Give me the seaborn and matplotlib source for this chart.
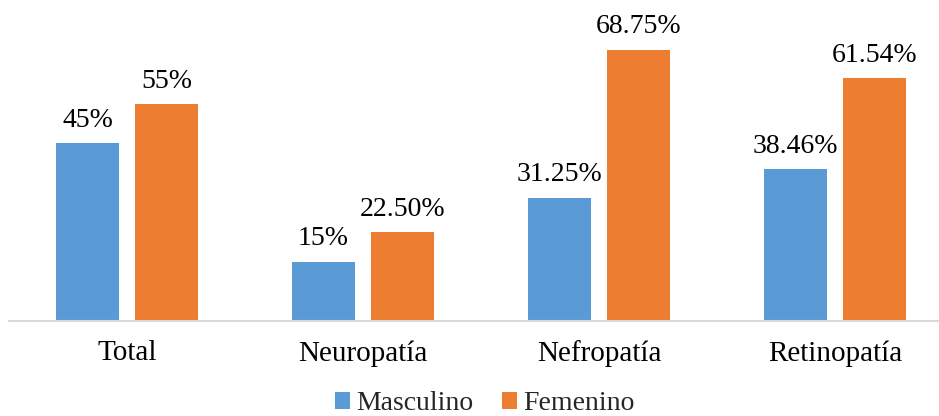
import matplotlib
matplotlib.use("Agg")
import matplotlib.pyplot as plt
import seaborn as sns
import pandas as pd
from matplotlib.patches import Patch

categories = ["Total", "Neuropatía", "Nefropatía", "Retinopatía"]
series_names = ["Masculino", "Femenino"]
masculino = [45, 15, 31.25, 38.46]
femenino = [55, 22.50, 68.75, 61.54]
masculino_labels = ["45%", "15%", "31.25%", "38.46%"]
femenino_labels = ["55%", "22.50%", "68.75%", "61.54%"]
colors = ["#5B9BD5", "#ED7D31"]

df = pd.DataFrame({
    "categoria": categories * 2,
    "sexo": [series_names[0]] * len(categories) + [series_names[1]] * len(categories),
    "valor": masculino + femenino,
})

sns.set_style("white")
plt.rcParams["font.family"] = ["Liberation Serif", "DejaVu Serif"]

W, H = 939, 416
fig = plt.figure(figsize=(W / 100, H / 100), dpi=100)
ax = fig.add_axes([9 / W, 95 / H, 930 / W, 321 / H])

sns.barplot(data=df, x="categoria", y="valor", hue="sexo", order=categories,
            hue_order=series_names, palette=colors, saturation=1,
            width=0.6695, gap=0.2025, ax=ax, legend=False, linewidth=0)

ax.set_xlim(-0.5, 3.4407)
ax.set_ylim(0, 81.37)

for container, labels in zip(ax.containers, [masculino_labels, femenino_labels]):
    ax.bar_label(container, labels=labels, padding=7.5, fontsize=20, color="#000000")

for side in ["top", "right", "left"]:
    ax.spines[side].set_visible(False)
ax.spines["bottom"].set_color("#D9D9D9")
ax.spines["bottom"].set_linewidth(1.5)
ax.set_yticks([])
ax.set_xlabel("")
ax.set_ylabel("")
ax.tick_params(axis="x", length=0, pad=14, labelsize=21, colors="#000000")

handles = [Patch(facecolor=c, edgecolor="none") for c in colors]
fig.legend(handles, series_names, loc="center", bbox_to_anchor=(485 / W, 1 - 404 / H),
           ncol=2, frameon=False, fontsize=20, handlelength=0.54, handleheight=0.54,
           handletextpad=0.22, columnspacing=1.04, borderaxespad=0, borderpad=0)

fig.savefig("out.png", dpi=100)
